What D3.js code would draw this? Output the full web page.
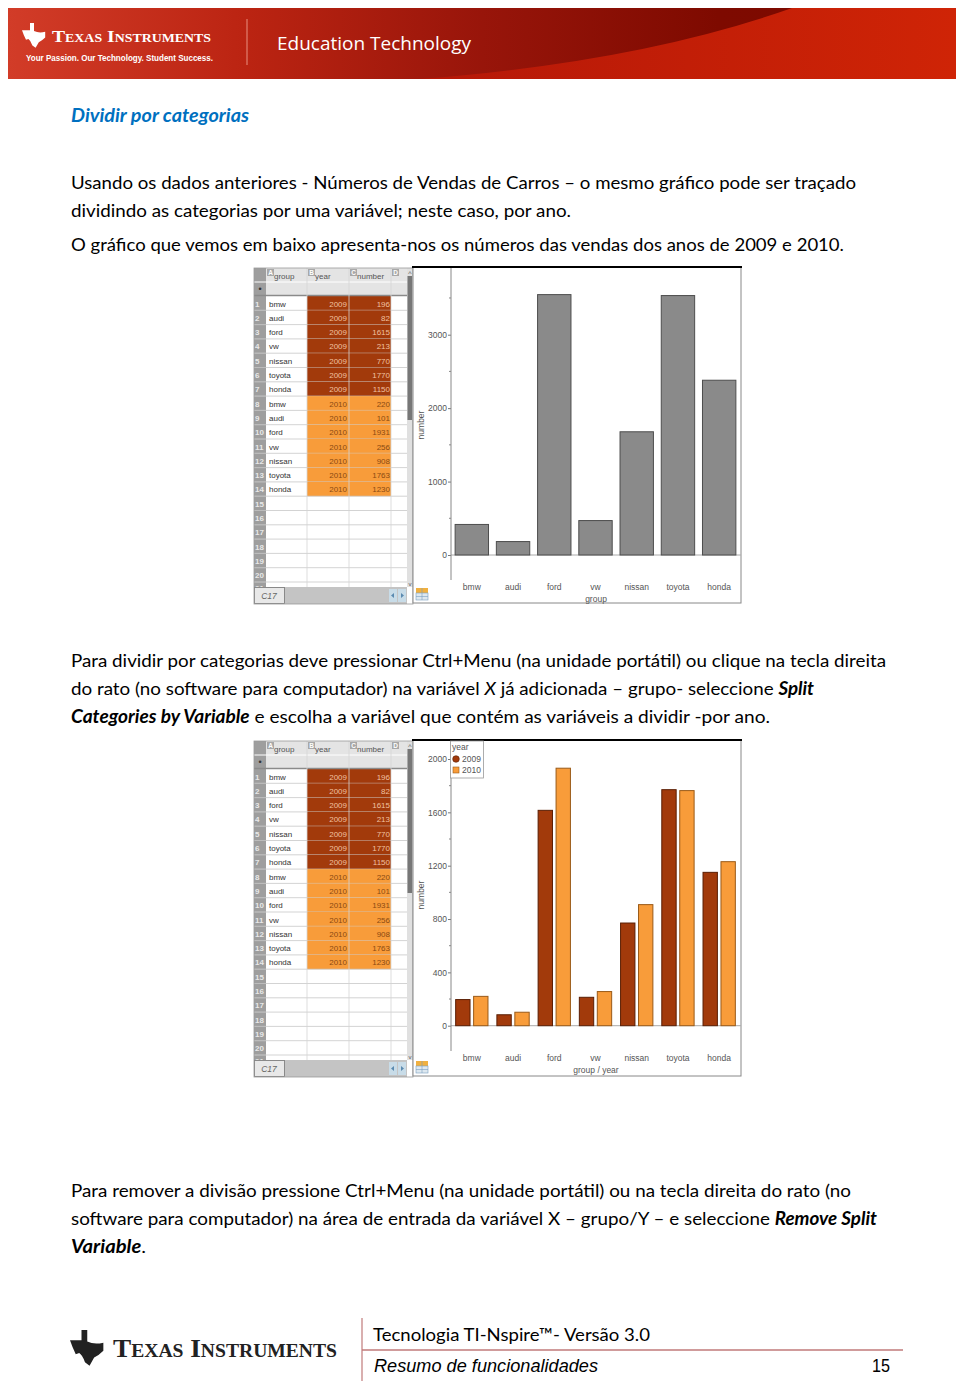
<!DOCTYPE html>
<html><head><meta charset="utf-8">
<script src="https://cdn.jsdelivr.net/npm/d3@7"></script>
<style>html,body{margin:0;padding:0;background:#fff}svg{display:block}</style>
</head><body>
<script>
// ---------- data ----------
const groups = ["bmw","audi","ford","vw","nissan","toyota","honda"];
const years = ["2009","2010"];
const sales2009 = [196,82,1615,213,770,1770,1150];
const sales2010 = [220,101,1931,256,908,1763,1230];
const ticks1 = [0,1000,2000,3000];
const minor1 = [500,1500,2500,3500];
const ticks2 = [0,400,800,1200,1600,2000];
const minor2 = [200,600,1000,1400,1800];
const sheetCols = ["group","year","number"];

const W=960,H=1384;
const svg=d3.select("body").append("svg").attr("width",W).attr("height",H);
svg.append("rect").attr("width",W).attr("height",H).attr("fill","#fff");
const defs=svg.append("defs");

// ---------- header banner ----------
const g1=defs.append("linearGradient").attr("id","hb").attr("x1","0").attr("x2","1").attr("y1","0").attr("y2","0");
[[0,"#d23c28"],[0.25,"#bb2412"],[0.5,"#98150a"],[0.75,"#7e0a00"],[1,"#7a0900"]].forEach(s=>g1.append("stop").attr("offset",s[0]).attr("stop-color",s[1]));
const g2=defs.append("linearGradient").attr("id","hb2").attr("x1","0").attr("x2","1");
[[0,"#b51808"],[1,"#cf2406"]].forEach(s=>g2.append("stop").attr("offset",s[0]).attr("stop-color",s[1]));
const hd=svg.append("g");
hd.append("rect").attr("x",8).attr("y",8).attr("width",948).attr("height",71).attr("fill","url(#hb)");
hd.append("path").attr("d","M420,79 Q640,62 792,8 L956,8 L956,79 Z").attr("fill","url(#hb2)");
function tiLogo(g,x,y,s,col){
  g.append("path").attr("transform",`translate(${x},${y}) scale(${s})`)
   .attr("d","M0,9 L10,9 L10,0 L15,0 L15,10 Q21,13 29,11 L29,18 Q25,22 21,24 L17,31 L13,28 Q11,22 8,20 L5,21 Q2,15 0,9 Z")
   .attr("fill",col);
}
tiLogo(hd,22,23,0.8,"#fff");
hd.append("text").attr("x",52).attr("y",42).attr("font-family","Liberation Serif").attr("font-weight","bold")
  .attr("font-size",17).attr("fill","#fff").style("font-variant","small-caps").attr("textLength",159).attr("lengthAdjust","spacingAndGlyphs").text("Texas Instruments");
hd.append("text").attr("x",26).attr("y",61).attr("font-family","Liberation Sans").attr("font-weight","bold")
  .attr("font-size",8.5).attr("fill","#fff").attr("textLength",187).attr("lengthAdjust","spacingAndGlyphs").text("Your Passion. Our Technology. Student Success.");
hd.append("line").attr("x1",247).attr("x2",247).attr("y1",19).attr("y2",65).attr("stroke","#e89080").attr("stroke-width",1);
hd.append("text").attr("x",277).attr("y",50).attr("font-family","Open Sans").attr("font-size",18.5).attr("fill","#fff")
  .attr("textLength",194).attr("lengthAdjust","spacingAndGlyphs").text("Education Technology");

// ---------- body text ----------
const bodyFont="Lato";
function line(y,x,w,parts,opts={}){
  const t=svg.append("text").attr("x",x).attr("y",y).attr("font-family",opts.family||bodyFont).attr("font-size",opts.size||18)
    .attr("fill",opts.fill||"#000");
  if(w) t.attr("textLength",w).attr("lengthAdjust","spacingAndGlyphs");
  parts.forEach(p=>{
    if(typeof p==="string"){t.append("tspan").text(p);}
    else{const s=t.append("tspan").text(p.t); if(p.b) s.attr("font-weight","bold"); if(p.i) s.attr("font-style","italic");}
  });
  return t;
}
line(122,71,178,[{t:"Dividir por categorias",b:true,i:true}],{fill:"#0070c0"});
line(189,71,785,["Usando os dados anteriores - Números de Vendas de Carros – o mesmo gráfico pode ser traçado"]);
line(217,71,500,["dividindo as categorias por uma variável; neste caso, por ano."]);
line(251,71,773,["O gráfico que vemos em baixo apresenta-nos os números das vendas dos anos de 2009 e 2010."]);
line(667,71,815,["Para dividir por categorias deve pressionar Ctrl+Menu (na unidade portátil) ou clique na tecla direita"]);
line(695,71,743,["do rato (no software para computador) na variável ",{t:"X",i:true}," já adicionada – grupo- seleccione ",{t:"Split",b:true,i:true}]);
line(723,71,699,[{t:"Categories by Variable",b:true,i:true}," e escolha a variável que contém as variáveis a dividir -por ano."]);
line(1197,71,780,["Para remover a divisão pressione Ctrl+Menu (na unidade portátil) ou na tecla direita do rato (no"]);
line(1225,71,806,["software para computador) na área de entrada da variável X – grupo/Y – e seleccione ",{t:"Remove Split",b:true,i:true}]);
line(1253,71,75,[{t:"Variable",b:true,i:true},"."]);

// ---------- spreadsheet ----------
const rows=[];
years.forEach((yr,yi)=>groups.forEach((g,gi)=>rows.push({g,yr,v:(yi?sales2010:sales2009)[gi],yi})));
const colX=[254,266,307,349,391,407]; // rownum, A, B, C, D, scrollbar start
function sheet(T){
  const s=svg.append("g").attr("font-family","Liberation Sans");
  const rh=14.3, r0=T+28;
  s.append("rect").attr("x",254).attr("y",T).attr("width",159).attr("height",336).attr("fill","#fff");
  s.append("rect").attr("x",266).attr("y",T).attr("width",141).attr("height",27.5).attr("fill","#e4e4e4");
  s.append("rect").attr("x",254).attr("y",T).attr("width",12).attr("height",319).attr("fill","#9e9e9e");
  s.append("line").attr("x1",254).attr("x2",407).attr("y1",T+14).attr("y2",T+14).attr("stroke","#fff");
  s.append("text").attr("x",260).attr("y",T+24).attr("text-anchor","middle").attr("font-size",9).attr("fill","#333").text("•");
  ["A","B","C","D"].forEach((L,i)=>{
    const x=colX[i+1];
    s.append("rect").attr("x",x+1).attr("y",T+1).attr("width",7).attr("height",7).attr("fill","#a8a8a8");
    s.append("text").attr("x",x+4.5).attr("y",T+7).attr("text-anchor","middle").attr("font-size",6.5).attr("font-weight","bold").attr("fill","#fff").text(L);
    if(i<3) s.append("text").attr("x",x+8).attr("y",T+11).attr("font-size",8).attr("fill","#555").text(sheetCols[i]);
  });
  for(let r=0;r<21;r++){
    const y=r0+r*rh, d=rows[r];
    const hh=r===20?7:rh;
    if(d){
      s.append("rect").attr("x",307).attr("y",y).attr("width",84).attr("height",rh).attr("fill",d.yi?"#f89c3a":"#a23a0b");
      s.append("text").attr("x",269).attr("y",y+10.5).attr("font-size",8).attr("fill","#333").text(d.g);
      s.append("text").attr("x",347).attr("y",y+10.5).attr("text-anchor","end").attr("font-size",8).attr("fill",d.yi?"#8a4a12":"#f0c0a0").text(d.yr);
      s.append("text").attr("x",390).attr("y",y+10.5).attr("text-anchor","end").attr("font-size",8).attr("fill",d.yi?"#8a4a12":"#f0c0a0").text(d.v);
    }
    s.append("text").attr("x",255).attr("y",y+Math.min(10.5,hh+2)).attr("font-size",8).attr("font-weight","bold").attr("fill","#e8e8e8").text(r+1);
    s.append("line").attr("x1",254).attr("x2",407).attr("y1",y+rh).attr("y2",y+rh).attr("stroke","#c8c8c8").attr("stroke-width",r===20?0:0.8);
    s.append("line").attr("x1",254).attr("x2",266).attr("y1",y+rh).attr("y2",y+rh).attr("stroke","#bbb").attr("stroke-width",r===20?0:0.8);
  }
  s.append("line").attr("x1",254).attr("x2",407).attr("y1",T+27.5).attr("y2",T+27.5).attr("stroke","#8a8a8a").attr("stroke-width",1.5);
  [307,349,391].forEach(x=>s.append("line").attr("x1",x).attr("x2",x).attr("y1",T).attr("y2",T+319).attr("stroke","#d4d4d4").attr("stroke-width",0.8));
  s.append("rect").attr("x",407).attr("y",T).attr("width",6).attr("height",319).attr("fill","#e0e0e0");
  s.append("rect").attr("x",407.5).attr("y",T+8).attr("width",4.5).attr("height",144).attr("fill","#777");
  s.append("text").attr("x",410).attr("y",T+8).attr("text-anchor","middle").attr("font-size",7).attr("fill","#555").text("^");
  s.append("text").attr("x",410).attr("y",T+318).attr("text-anchor","middle").attr("font-size",6).attr("fill","#555").text("v");
  s.append("rect").attr("x",254).attr("y",T+319).attr("width",153).attr("height",17).attr("fill","#c4c4c4");
  s.append("rect").attr("x",254.5).attr("y",T+319.5).attr("width",30).attr("height",16).attr("fill","#e8e8e8").attr("stroke","#777").attr("stroke-width",0.8);
  s.append("text").attr("x",269).attr("y",T+331).attr("text-anchor","middle").attr("font-size",8.5).attr("font-style","italic").attr("fill","#666").text("C17");
  [389,398].forEach((x,i)=>{
    s.append("rect").attr("x",x).attr("y",T+321).attr("width",8).attr("height",13).attr("fill","#c8dce8");
    s.append("path").attr("d",i?`M${x+3},${T+325} L${x+6},${T+327.5} L${x+3},${T+330} Z`:`M${x+5},${T+325} L${x+2},${T+327.5} L${x+5},${T+330} Z`).attr("fill","#5a8ab0");
  });
  s.append("rect").attr("x",254).attr("y",T).attr("width",159).attr("height",336).attr("fill","none").attr("stroke","#999").attr("stroke-width",0.8);
}

// ---------- chart panels ----------
const x=d3.scaleBand().domain(groups).range([451,740]).paddingInner(0.19).paddingOuter(0.1);
function panel(T,yScale,ticks,minor,xLabel,ylabY,axisBottom){
  const p=svg.append("g").attr("font-family","Liberation Sans");
  p.append("rect").attr("x",413).attr("y",T).attr("width",328).attr("height",336).attr("fill","#fff").attr("stroke","#888").attr("stroke-width",1);
  p.append("line").attr("x1",412).attr("x2",742).attr("y1",T).attr("y2",T).attr("stroke","#000").attr("stroke-width",2);
  p.append("line").attr("x1",451).attr("x2",741).attr("y1",yScale(0)).attr("y2",yScale(0)).attr("stroke","#aaa").attr("stroke-width",1);
  const ax=p.append("g").attr("transform","translate(451,0)").call(d3.axisLeft(yScale).tickValues(ticks).tickFormat(d3.format("d")).tickSize(3).tickPadding(1));
  ax.select(".domain").remove();
  ax.selectAll("line").attr("stroke","#777");
  ax.selectAll("text").attr("font-size",8.5).attr("fill","#555").attr("font-family","Liberation Sans");
  p.append("line").attr("x1",451).attr("x2",451).attr("y1",T+1).attr("y2",axisBottom).attr("stroke","#888").attr("stroke-width",1);
  p.selectAll(".mn").data(minor).join("line").attr("x1",449).attr("x2",451).attr("y1",d=>yScale(d)).attr("y2",d=>yScale(d)).attr("stroke","#888");
  const xa=p.append("g").attr("transform",`translate(0,${axisBottom})`).call(d3.axisBottom(x).tickSize(0).tickPadding(4));
  xa.select(".domain").remove();
  xa.selectAll("text").attr("font-size",8.5).attr("fill","#555").attr("font-family","Liberation Sans");
  p.append("text").attr("x",596).attr("y",axisBottom+22).attr("text-anchor","middle").attr("font-size",8.5).attr("fill","#555").text(xLabel);
  p.append("text").attr("transform",`translate(424,${ylabY}) rotate(-90)`).attr("text-anchor","middle").attr("font-size",8.5).attr("fill","#555").text("number");
  p.append("rect").attr("x",416).attr("y",T+321).attr("width",12).attr("height",5).attr("fill","#f0b040");
  p.append("rect").attr("x",416).attr("y",T+326).attr("width",12).attr("height",7).attr("fill","#dde8f0").attr("stroke","#7a9ec0").attr("stroke-width",0.6);
  p.append("line").attr("x1",416).attr("x2",428).attr("y1",T+329.5).attr("y2",T+329.5).attr("stroke","#7a9ec0").attr("stroke-width",0.6);
  p.append("line").attr("x1",422).attr("x2",422).attr("y1",T+321).attr("y2",T+333).attr("stroke","#7a9ec0").attr("stroke-width",0.6);
  return p;
}

// panel 1: totals
sheet(268);
const y1=d3.scaleLinear().domain([0,3000]).range([555,334.7]);
const p1=panel(267,y1,ticks1,minor1,"group",425,580);
const totals=groups.map((g,i)=>({g,v:sales2009[i]+sales2010[i]}));
p1.selectAll(".bar").data(totals).join("rect")
  .attr("x",d=>x(d.g)).attr("width",x.bandwidth()).attr("y",d=>y1(d.v)).attr("height",d=>y1(0)-y1(d.v))
  .attr("fill","#8a8a8a").attr("stroke","#4d4d4d").attr("stroke-width",1);

// panel 2: split by year
sheet(741);
const y2=d3.scaleLinear().domain([0,2000]).range([1025.7,759]);
const p2=panel(740,y2,ticks2,minor2,"group / year",895,1051);
const xs=d3.scaleBand().domain(years).range([0,x.bandwidth()]).paddingInner(0.2).paddingOuter(0.03);
const fills={"2009":"#a23a0b","2010":"#f89c3a"}, strokes={"2009":"#5a1e04","2010":"#9a5a18"};
const split=[];
groups.forEach((g,i)=>{split.push({g,yr:"2009",v:sales2009[i]});split.push({g,yr:"2010",v:sales2010[i]});});
p2.selectAll(".bar").data(split).join("rect")
  .attr("x",d=>x(d.g)+xs(d.yr)).attr("width",xs.bandwidth()).attr("y",d=>y2(d.v)).attr("height",d=>y2(0)-y2(d.v))
  .attr("fill",d=>fills[d.yr]).attr("stroke",d=>strokes[d.yr]).attr("stroke-width",1);
const lg=p2.append("g");
lg.append("rect").attr("x",450.5).attr("y",741).attr("width",33).attr("height",37).attr("fill","#fff").attr("stroke","#999").attr("stroke-width",0.8);
lg.append("text").attr("x",452).attr("y",750).attr("font-size",8.5).attr("fill","#555").text("year");
lg.append("circle").attr("cx",456).attr("cy",759).attr("r",3.3).attr("fill",fills["2009"]).attr("stroke",strokes["2009"]).attr("stroke-width",0.6);
lg.append("rect").attr("x",453).attr("y",767).attr("width",6).attr("height",6).attr("fill",fills["2010"]).attr("stroke",strokes["2010"]).attr("stroke-width",0.6);
years.forEach((yr,i)=>lg.append("text").attr("x",462).attr("y",762+i*11).attr("font-size",8.5).attr("fill","#555").text(yr));

// ---------- footer ----------
const ft=svg.append("g");
tiLogo(ft,70,1330,1.15,"#222");
ft.append("text").attr("x",113).attr("y",1357).attr("font-family","Liberation Serif").attr("font-weight","bold")
  .attr("font-size",25).attr("fill","#222").style("font-variant","small-caps").attr("textLength",224).attr("lengthAdjust","spacingAndGlyphs").text("Texas Instruments");
ft.append("line").attr("x1",362).attr("x2",362).attr("y1",1318).attr("y2",1381).attr("stroke","#c07a7a").attr("stroke-width",1.2);
ft.append("line").attr("x1",362).attr("x2",903).attr("y1",1350).attr("y2",1350).attr("stroke","#c07a7a").attr("stroke-width",1.5);
line(1341,373,277,["Tecnologia TI-Nspire™- Versão 3.0"],{size:18});
line(1372,374,224,[{t:"Resumo de funcionalidades",i:true}],{family:"Liberation Sans",size:18});
line(1372,872,18,["15"],{family:"Liberation Sans",size:18});
</script>
</body></html>
